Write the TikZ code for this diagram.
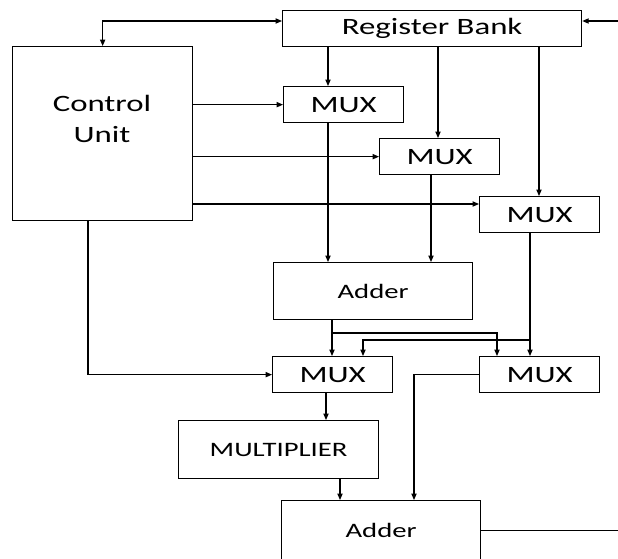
\documentclass[tikz,border=0pt]{standalone}
\usepackage{fontspec}
\setmainfont{Carlito}[FakeStretch=1.4]
\usetikzlibrary{arrows.meta,positioning,calc}

\tikzset{
  unit/.style={draw, line width=1.1pt, anchor=north west, inner sep=0pt,
               font=\fontsize{20}{24}\selectfont},
  unitsm/.style={unit, font=\fontsize{17.5}{21}\selectfont},
  sz/.style 2 args={minimum width=#1*0.03cm, minimum height=#2*0.03cm},
  flow/.style={line width=0.9pt, -{Triangle[length=5.5pt,width=4.5pt]}},
  flowboth/.style={line width=0.9pt,
               {Triangle[length=5.5pt,width=4.5pt]}-{Triangle[length=5.5pt,width=4.5pt]}},
  wire/.style={line width=0.9pt}
}

\begin{document}
\begin{tikzpicture}[x=0.03cm, y=-0.03cm]
  \useasboundingbox (0,0) rectangle (618,558);

  % blocks
  \node[unit, sz={299}{36}] (rb) at (282,10) {Register Bank};
  \node[unit, sz={180}{174}] (cu) at (12,46) {};
  \node[font=\fontsize{20}{27}\selectfont, align=center] (cutxt) at (102,119) {Control\\Unit};
  \node[unit, sz={120}{36}] (mux1) at (283,86) {MUX};
  \node[unit, sz={120}{36}] (mux2) at (379,138) {MUX};
  \node[unit, sz={120}{36}] (mux3) at (479,196) {MUX};
  \node[unitsm, sz={199}{57}] (add1) at (273,262) {Adder};
  \node[unit, sz={120}{36}] (mux4) at (272,356) {MUX};
  \node[unit, sz={120}{36}] (mux5) at (479,356) {MUX};
  \node[unitsm, sz={200}{58}] (mul) at (178,420) {MULTIPLIER};
  \node[unitsm, sz={199}{60}] (add2) at (281,500) {Adder};

  % columns and rows of the wires
  \coordinate (rbin) at (618,21);
  \coordinate (sumout) at (618,529);
  \coordinate (ctl3) at (0,204);
  \coordinate (br1) at (0,333);
  \coordinate (br2) at (0,340);
  \coordinate (ca) at (328,0);
  \coordinate (cb) at (438,0);
  \coordinate (cc) at (539,0);
  \coordinate (cd) at (431,0);
  \coordinate (ce) at (530,0);
  \coordinate (cf) at (332,0);
  \coordinate (cg) at (497,0);
  \coordinate (ch) at (363,0);
  \coordinate (ci) at (88,0);
  \coordinate (cj) at (414,0);
  \coordinate (ck) at (326,0);
  \coordinate (cl) at (340,0);

  % register bank
  \draw[flow] (rbin) -- (rbin -| rb.east);
  \draw[flowboth] (cu.north) |- (rbin -| rb.west);
  \draw[flow] (rb.south -| ca) -- (mux1.north -| ca);
  \draw[flow] (rb.south -| cb) -- (mux2.north -| cb);
  \draw[flow] (rb.south -| cc) -- (mux3.north -| cc);

  % control lines
  \draw[flow] (cu.east |- mux1.west) -- (mux1.west);
  \draw[flow] (cu.east |- mux2.west) -- (mux2.west);
  \draw[flow] (cu.east |- ctl3) -- (mux3.west |- ctl3);
  \draw[flow] (cu.south -| ci) |- (mux4.west);

  % data path
  \draw[flow] (mux1.south -| ca) -- (add1.north -| ca);
  \draw[flow] (mux2.south -| cd) -- (add1.north -| cd);
  \draw[flow] (mux3.south -| ce) -- (mux5.north -| ce);
  \draw[flow] (add1.south -| cf) -- (mux4.north -| cf);
  \draw[flow] (cf |- br1) -| (mux5.north -| cg);
  \draw[flow] (ce |- br2) -| (mux4.north -| ch);
  \draw[flow] (mux5.west) -| (add2.north -| cj);
  \draw[flow] (mux4.south -| ck) -- (mul.north -| ck);
  \draw[flow] (mul.south -| cl) -- (add2.north -| cl);
  \draw[wire] (add2.east) -- (add2.east -| sumout);
\end{tikzpicture}
\end{document}
